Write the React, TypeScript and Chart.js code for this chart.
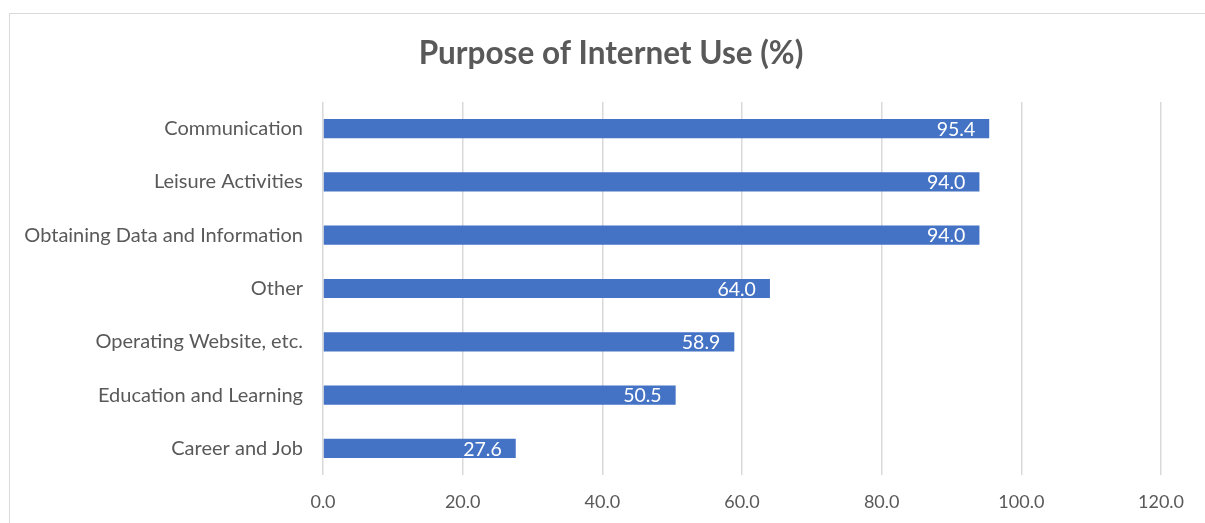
import React, { useEffect, useRef } from "react";
import { Chart, registerables } from "chart.js";

Chart.register(...registerables);

const categories = [
  "Communication",
  "Leisure Activities",
  "Obtaining Data and Information",
  "Other",
  "Operating Website, etc.",
  "Education and Learning",
  "Career and Job",
];
const values = [95.4, 94.0, 94.0, 64.0, 58.9, 50.5, 27.6];
const titleText = "Purpose of Internet Use (%)";

const FONT = "Lato, 'Open Sans', sans-serif";
const TEXT = "#595959";

const labelPlugin = {
  id: "barLabels",
  afterDatasetsDraw(chart: any) {
    const ctx = chart.ctx;
    const meta = chart.getDatasetMeta(0);
    ctx.save();
    ctx.fillStyle = "#ffffff";
    ctx.font = `19.5px ${FONT}`;
    ctx.textAlign = "right";
    ctx.textBaseline = "middle";
    meta.data.forEach((bar: any, i: number) => {
      ctx.fillText(values[i].toFixed(1), bar.x - 14, bar.y + 1);
    });
    ctx.restore();
  },
};

const titlePlugin = {
  id: "customTitle",
  afterDraw(chart: any) {
    const ctx = chart.ctx;
    ctx.save();
    ctx.fillStyle = TEXT;
    ctx.font = `bold 31.5px ${FONT}`;
    ctx.textAlign = "center";
    ctx.textBaseline = "middle";
    ctx.fillText(titleText, 611, 54);
    ctx.restore();
  },
};

export default function App() {
  const ref = useRef<HTMLCanvasElement>(null);
  useEffect(() => {
    if (!ref.current) return;
    const chart = new Chart(ref.current, {
      type: "bar",
      data: {
        labels: categories,
        datasets: [
          {
            data: values,
            backgroundColor: "#4472C4",
            barPercentage: 0.36,
            categoryPercentage: 1,
          },
        ],
      },
      options: {
        indexAxis: "y",
        animation: false,
        responsive: false,
        maintainAspectRatio: false,
        layout: { padding: { top: 102, right: 44, left: 0, bottom: 0 } },
        plugins: {
          legend: { display: false },
          title: { display: false },
          tooltip: { enabled: false },
        },
        scales: {
          x: {
            min: 0,
            max: 120,
            ticks: {
              stepSize: 20,
              color: TEXT,
              font: { family: FONT, size: 18 },
              padding: 16,
              callback: (v: any) => Number(v).toFixed(1),
            },
            grid: { color: "#D9D9D9", lineWidth: 1.5, drawTicks: false },
            border: { display: false },
            afterFit: (s: any) => {
              s.height = 48;
            },
          },
          y: {
            ticks: {
              color: TEXT,
              font: { family: FONT, size: 20 },
              padding: 20,
            },
            grid: { display: false, drawTicks: false },
            border: { display: false },
            afterFit: (s: any) => {
              s.width = 323;
            },
          },
        },
      },
      plugins: [labelPlugin, titlePlugin],
    });
    return () => chart.destroy();
  }, []);
  return (
    <div
      style={{
        position: "fixed",
        left: 0,
        top: 0,
        width: 1205,
        height: 523,
        overflow: "hidden",
        background: "#ffffff",
      }}
    >
      <div
        style={{
          position: "absolute",
          left: 9,
          top: 13,
          width: 1400,
          height: 800,
          border: "1px solid #D9D9D9",
        }}
      />
      <canvas
        ref={ref}
        width={1205}
        height={523}
        style={{ position: "absolute", left: 0, top: 0, width: 1205, height: 523 }}
      />
    </div>
  );
}
